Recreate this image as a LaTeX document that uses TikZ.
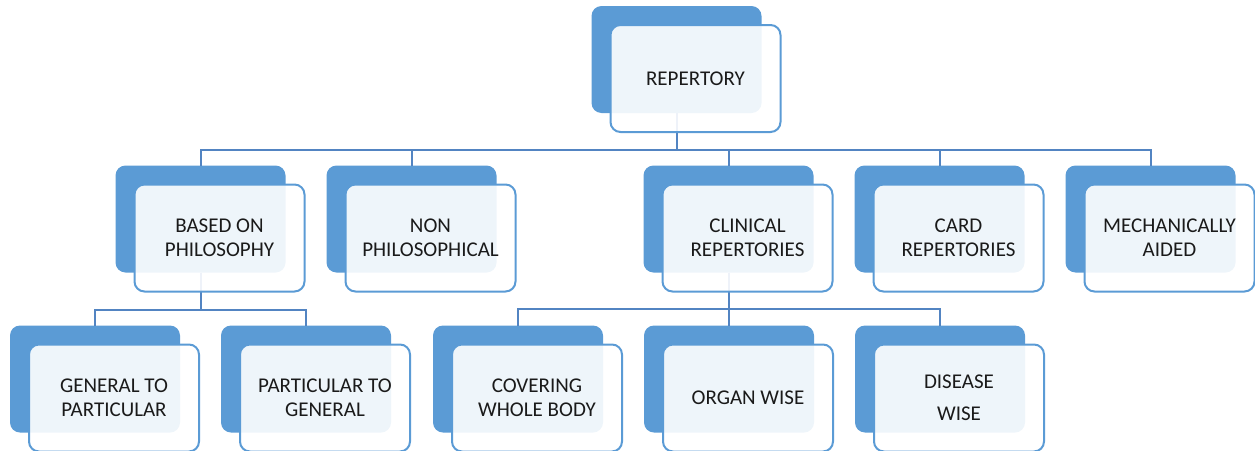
\documentclass[tikz,border=0pt]{standalone}
\usepackage{fontspec}
\setmainfont{Carlito}
\usepackage{xcolor}
\usepackage{tikz}
\usetikzlibrary{positioning,calc}

\definecolor{boxblue}{HTML}{5B9BD5}
\definecolor{linkblue}{HTML}{5284C2}
\definecolor{inktext}{HTML}{1A1A1A}

\tikzset{
    backbox/.style={rectangle, rounded corners=10pt, fill=boxblue,
        minimum width=170pt, minimum height=107pt, inner sep=0pt, outer sep=0pt},
    frontbox/.style={rectangle, rounded corners=10pt, draw=boxblue, line width=2pt,
        fill=white, fill opacity=0.9, text opacity=1, text=inktext,
        minimum width=170pt, minimum height=107pt, inner sep=0pt, outer sep=0pt,
        align=center, font=\fontsize{21}{24}\selectfont},
    link/.style={draw=linkblue, line width=2pt}
}

\begin{document}
\begin{tikzpicture}[x=1pt, y=-1pt]
    \useasboundingbox (0,0) rectangle (1255,450);

    % back boxes
    \node[backbox] (rep) at (676.5,59.5) {};
    \node[backbox] (based) at (200.5,219) {};
    \node[backbox, right=41pt of based] (nonphil) {};
    \node[backbox, right=147pt of nonphil] (clin) {};
    \node[backbox, right=41pt of clin] (card) {};
    \node[backbox, right=41pt of card] (mech) {};
    \node[backbox] (gen) at (95,379) {};
    \node[backbox, right=41pt of gen] (part) {};
    \node[backbox, right=42pt of part] (cover) {};
    \node[backbox, right=41pt of cover] (organ) {};
    \node[backbox, right=41pt of organ] (disease) {};

    % connectors
    \draw[link] (rep.south) -- ++(0,37) -| (based.north);
    \draw[link] (rep.south) -- ++(0,37) -| (nonphil.north);
    \draw[link] (rep.south) -- ++(0,37) -| (clin.north);
    \draw[link] (rep.south) -- ++(0,37) -| (card.north);
    \draw[link] (rep.south) -- ++(0,37) -| (mech.north);
    \draw[link] (based.south) -- ++(0,37) -| (gen.north);
    \draw[link] (based.south) -- ++(0,37) -| (part.north);
    \draw[link] (clin.south) -- ++(0,36) -| (cover.north);
    \draw[link] (clin.south) -- ++(0,36) -| (organ.north);
    \draw[link] (clin.south) -- ++(0,36) -| (disease.north);

    % front boxes
    \node[frontbox] (rep-t) at ([shift={(19,19)}]rep.center) {REPERTORY};
    \node[frontbox] (based-t) at ([shift={(19,19)}]based.center) {BASED ON\\PHILOSOPHY};
    \node[frontbox] (nonphil-t) at ([shift={(19,19)}]nonphil.center) {NON\\PHILOSOPHICAL};
    \node[frontbox] (clin-t) at ([shift={(19,19)}]clin.center) {CLINICAL\\REPERTORIES};
    \node[frontbox] (card-t) at ([shift={(19,19)}]card.center) {CARD\\REPERTORIES};
    \node[frontbox] (mech-t) at ([shift={(19,19)}]mech.center) {MECHANICALLY\\AIDED};
    \node[frontbox] (gen-t) at ([shift={(19,19)}]gen.center) {GENERAL TO\\PARTICULAR};
    \node[frontbox] (part-t) at ([shift={(19,19)}]part.center) {PARTICULAR TO\\GENERAL};
    \node[frontbox] (cover-t) at ([shift={(19,19)}]cover.center) {COVERING\\WHOLE BODY};
    \node[frontbox] (organ-t) at ([shift={(19,19)}]organ.center) {ORGAN WISE};
    \node[frontbox, font=\fontsize{21}{32}\selectfont] (disease-t) at ([shift={(19,19)}]disease.center) {DISEASE\\WISE};
\end{tikzpicture}
\end{document}
